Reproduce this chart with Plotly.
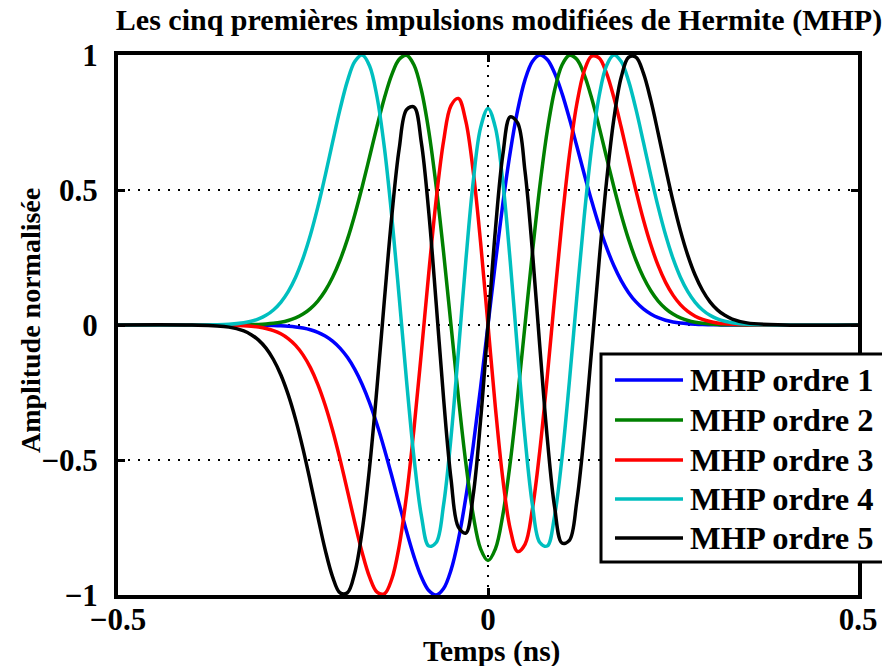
import plotly.graph_objects as go

# ---------------- data ----------------
t_ns = [-0.5, -0.4, -0.35,
        -0.33, -0.32, -0.31, -0.30, -0.29, -0.28, -0.27, -0.26, -0.25, -0.24, -0.23,
        -0.22, -0.21, -0.20, -0.19, -0.18, -0.17, -0.16, -0.15, -0.14, -0.13, -0.12,
        -0.11, -0.10, -0.09, -0.08, -0.07, -0.06, -0.05, -0.04, -0.03, -0.02, -0.01,
        0.0,
        0.01, 0.02, 0.03, 0.04, 0.05, 0.06, 0.07, 0.08, 0.09, 0.10, 0.11,
        0.12, 0.13, 0.14, 0.15, 0.16, 0.17, 0.18, 0.19, 0.20, 0.21, 0.22,
        0.23, 0.24, 0.25, 0.26, 0.27, 0.28, 0.29, 0.30, 0.31, 0.32, 0.33,
        0.35, 0.4, 0.5]

mhp1 = [0, 0, 0,
        -0.0001, -0.0003, -0.0005, -0.0009, -0.0015, -0.0026, -0.0043, -0.0070, -0.0113, -0.0176, -0.0270,
        -0.0406, -0.0595, -0.0854, -0.1198, -0.1644, -0.2203, -0.2884, -0.3686, -0.4598, -0.5593, -0.6629,
        -0.7648, -0.8578, -0.9335, -0.9836, -0.9999, -0.9760, -0.9079, -0.7947, -0.6393, -0.4480, -0.2308,
        0.0,
        0.2308, 0.4480, 0.6393, 0.7947, 0.9079, 0.9760, 0.9999, 0.9836, 0.9335, 0.8578, 0.7648,
        0.6629, 0.5593, 0.4598, 0.3686, 0.2884, 0.2203, 0.1644, 0.1198, 0.0854, 0.0595, 0.0406,
        0.0270, 0.0176, 0.0113, 0.0070, 0.0043, 0.0026, 0.0015, 0.0009, 0.0005, 0.0003, 0.0001,
        0, 0, 0]

mhp2 = [0, 0, 0.0002,
        0.0007, 0.0012, 0.0022, 0.0038, 0.0064, 0.0104, 0.0168, 0.0263, 0.0404, 0.0606, 0.0887,
        0.1267, 0.1766, 0.2398, 0.3172, 0.4087, 0.5121, 0.6232, 0.7358, 0.8407, 0.9274, 0.9841,
        0.9992, 0.9630, 0.8695, 0.7178, 0.5132, 0.2679, 0.0, -0.2677, -0.5104, -0.7042, -0.8293,
        -0.8726,
        -0.8293, -0.7042, -0.5104, -0.2677, 0.0, 0.2679, 0.5132, 0.7178, 0.8695, 0.9630, 0.9992,
        0.9841, 0.9274, 0.8407, 0.7358, 0.6232, 0.5121, 0.4087, 0.3172, 0.2398, 0.1766, 0.1267,
        0.0887, 0.0606, 0.0404, 0.0263, 0.0168, 0.0104, 0.0064, 0.0038, 0.0022, 0.0012, 0.0007,
        0.0002, 0, 0]

mhp3 = [0, 0, -0.0008,
        -0.0026, -0.0045, -0.0077, -0.0127, -0.0207, -0.0326, -0.0503, -0.0756, -0.1107, -0.1580, -0.2196,
        -0.2970, -0.3899, -0.4968, -0.6133, -0.7323, -0.8436, -0.9340, -0.9895, -0.9956, -0.9408, -0.8185,
        -0.6296, -0.3837, -0.1002, 0.1936, 0.4652, 0.6812, 0.8124, 0.8391, 0.7550, 0.5692, 0.3057,
        0.0,
        -0.3057, -0.5692, -0.7550, -0.8391, -0.8124, -0.6812, -0.4652, -0.1936, 0.1002, 0.3837, 0.6296,
        0.8185, 0.9408, 0.9956, 0.9895, 0.9340, 0.8436, 0.7323, 0.6133, 0.4968, 0.3899, 0.2970,
        0.2196, 0.1580, 0.1107, 0.0756, 0.0503, 0.0326, 0.0207, 0.0127, 0.0077, 0.0045, 0.0026,
        0.0008, 0, 0]

mhp4 = [0, 0, 0.0027,
        0.0082, 0.0137, 0.0224, 0.0357, 0.0556, 0.0841, 0.1239, 0.1772, 0.2467, 0.3332, 0.4363,
        0.5534, 0.6774, 0.7985, 0.9032, 0.9759, 0.9998, 0.9594, 0.8455, 0.6563, 0.4015, 0.1025,
        -0.2085, -0.4918, -0.7068, -0.8186, -0.8057, -0.6653, -0.4165, -0.0981, 0.2369, 0.5307, 0.7311,
        0.8022,
        0.7311, 0.5307, 0.2369, -0.0981, -0.4165, -0.6653, -0.8057, -0.8186, -0.7068, -0.4918, -0.2085,
        0.1025, 0.4015, 0.6563, 0.8455, 0.9594, 0.9998, 0.9759, 0.9032, 0.7985, 0.6774, 0.5534,
        0.4363, 0.3332, 0.2467, 0.1772, 0.1239, 0.0841, 0.0556, 0.0357, 0.0224, 0.0137, 0.0082,
        0.0027, 0, 0]

mhp5 = [0, -0.0004, -0.0079,
        -0.0221, -0.0357, -0.0561, -0.0859, -0.1278, -0.1843, -0.2580, -0.3496, -0.4589, -0.5816, -0.7100,
        -0.8327, -0.9327, -0.9919, -0.9916, -0.9173, -0.7612, -0.5266, -0.2313, 0.0930, 0.4038, 0.6533,
        0.7979, 0.8075, 0.6740, 0.4163, 0.0793, -0.2729, -0.5698, -0.7489, -0.7709, -0.6292, -0.3526,
        0.0,
        0.3526, 0.6292, 0.7709, 0.7489, 0.5698, 0.2729, -0.0793, -0.4163, -0.6740, -0.8075, -0.7979,
        -0.6533, -0.4038, -0.0930, 0.2313, 0.5266, 0.7612, 0.9173, 0.9916, 0.9919, 0.9327, 0.8327,
        0.7100, 0.5816, 0.4589, 0.3496, 0.2580, 0.1843, 0.1278, 0.0859, 0.0561, 0.0357, 0.0221,
        0.0079, 0.0004, 0]

series_names = ["MHP ordre 1", "MHP ordre 2", "MHP ordre 3", "MHP ordre 4", "MHP ordre 5"]
series_values = [mhp1, mhp2, mhp3, mhp4, mhp5]
series_colors = ["#0000ff", "#008000", "#ff0000", "#00bfbf", "#000000"]

x_tick_vals = [-0.5, 0, 0.5]
x_tick_text = ["\u22120.5", "0", "0.5"]
y_tick_vals = [-1, -0.5, 0, 0.5, 1]
y_tick_text = ["\u22121", "\u22120.5", "0", "0.5", "1"]

title_text = "Les cinq premières impulsions modifiées de Hermite (MHP)"
x_title = "Temps (ns)"
y_title = "Amplitude normalisée"

# ---------------- layout helpers ----------------
W, H = 882, 666
ML, MR, MT, MB = 118, 24, 55, 71
FONT = "Liberation Serif, Times New Roman, Times, serif"


def pxx(p):
    return (p - ML) / (W - ML - MR)


def pxy(p):
    return (H - MB - p) / (H - MT - MB)


fig = go.Figure()
for name, vals, col in zip(series_names, series_values, series_colors):
    fig.add_trace(go.Scatter(x=t_ns, y=vals, mode="lines", name=name,
                             line=dict(color=col, width=3.5, shape="spline", smoothing=1.0),
                             showlegend=False))

axis_common = dict(
    showline=True, linecolor="black", linewidth=4, mirror="ticks",
    ticks="inside", ticklen=7, tickwidth=3, tickcolor="black",
    showgrid=True, gridcolor="black", gridwidth=1.5, griddash="2px,8px",
    zeroline=False, automargin=False,
    tickfont=dict(family=FONT, size=31, color="black", weight="bold"),
)

fig.update_layout(
    width=W, height=H,
    margin=dict(l=ML, r=MR, t=MT, b=MB, autoexpand=False),
    paper_bgcolor="white", plot_bgcolor="white",
    title=dict(text=title_text, x=499 / W, xanchor="center", y=1 - 19 / H, yanchor="middle",
               font=dict(family=FONT, size=30, color="black", weight="bold")),
    xaxis=dict(range=[-0.5, 0.5], tickvals=x_tick_vals, ticktext=x_tick_text,
               ticklabelstandoff=-6, **axis_common),
    yaxis=dict(range=[-1, 1], tickvals=y_tick_vals, ticktext=y_tick_text,
               ticklabelstandoff=10, **axis_common),
)

# axis titles
fig.add_annotation(text=x_title, xref="paper", yref="paper", x=pxx(492), y=pxy(651),
                   xanchor="center", yanchor="middle", showarrow=False,
                   font=dict(family=FONT, size=29.5, color="black", weight="bold"))
fig.add_annotation(text=y_title, xref="paper", yref="paper", x=pxx(30), y=pxy(321),
                   xanchor="center", yanchor="middle", showarrow=False, textangle=-90,
                   font=dict(family=FONT, size=28, color="black", weight="bold"))

# ---------------- legend (box, sample lines, labels) ----------------
fig.add_shape(type="rect", xref="paper", yref="paper",
              x0=pxx(601), x1=pxx(900), y0=pxy(562), y1=pxy(354),
              line=dict(color="black", width=3), fillcolor="white", layer="above")
row_y = [380, 420, 460, 499, 538]
for name, col, ry in zip(series_names, series_colors, row_y):
    fig.add_shape(type="line", xref="paper", yref="paper",
                  x0=pxx(615), x1=pxx(683), y0=pxy(ry), y1=pxy(ry),
                  line=dict(color=col, width=3.5), layer="above")
    fig.add_annotation(text=name, xref="paper", yref="paper", x=pxx(688), y=pxy(ry),
                       xanchor="left", yanchor="middle", showarrow=False,
                       font=dict(family=FONT, size=32.5, color="black", weight="bold"))

fig.write_html("out.html")
